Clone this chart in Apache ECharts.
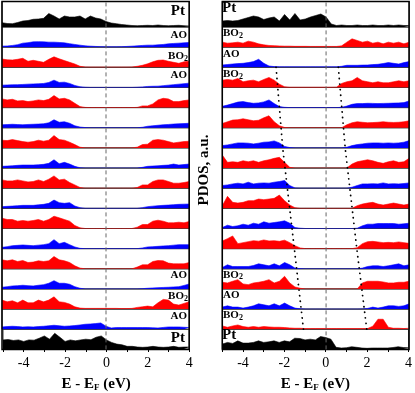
<!DOCTYPE html>
<html>
<head>
<meta charset="utf-8">
<script src="https://cdn.jsdelivr.net/npm/echarts@6/dist/echarts.min.js"></script>
<style>
  html, body { margin: 0; padding: 0; background: #fff; }
  #chart { width: 415px; height: 393px; }
</style>
</head>
<body>
<div id="chart"></div>
<script>
// energy grid, E - E_F (eV)
var energy = [-5, -4.75, -4.5, -4.25, -4, -3.75, -3.5, -3.25, -3, -2.75, -2.5, -2.25, -2, -1.75, -1.5, -1.25,
  -1, -0.75, -0.5, -0.25, 0, 0.25, 0.5, 0.75, 1, 1.25, 1.5, 1.75, 2, 2.25, 2.5, 2.75, 3, 3.25, 3.5, 3.75, 4];
var tickLabels = ['-4', '-2', '0', '2', '4'];

// left stack, top (Pt) to bottom (Pt)
var leftPtTop = [4.3,3.5,3.3,4.5,6,6.5,7.7,8,8.7,13.5,11,8,11,10,10,11,8,11,9,8,5.5,4,3.3,2.5,2,1.5,1.3,1.5,1.7,1.5,2,1.5,1.3,1.5,1.7,1.3,1];
var leftL1 = [1,1.2,1.7,2.5,4,4.5,5.3,5.5,5.3,5,5,4.7,4.3,3.5,2.7,2,1.3,1,0.7,0.5,0.3,0.3,0.3,0.5,0.7,1,1.3,1.7,2,2,2.3,2.7,3.3,3.7,4,4.3,4.7];
var leftL2 = [8.3,7.5,7.3,8,9,6,7,6,5,8,10.5,8.5,6.7,5,3.3,1,0.3,0.2,0.2,0.2,0.2,0.2,0.2,0.2,0.2,0.3,1,2,3.5,5.5,7,7.3,6,5,4,5.5,6];
var leftL3 = [2.3,2.5,2.7,2.8,3,3.3,3.5,3.7,4,5,7.3,5,5.3,4,2,0.7,0.2,0,0,0,0,0,0,0,0,0,0.2,0.5,1,1.2,1.3,1.8,2.3,2.8,3.3,3.8,4.3];
var leftL4 = [8.7,7.7,8.3,6.7,7,6,6.7,7.7,7,8.3,12,8.7,9.3,7.7,4.3,1,0.2,0,0,0,0,0,0,0,0,0,0.2,1.7,1.7,3.7,7.7,9.3,8.7,6,6,7,7.7];
var leftL5 = [3,3.2,3.5,3.2,3,3.3,3.5,3.7,4,5,8,5.5,6,4.5,2,0.7,0.2,0,0,0,0,0,0,0,0,0,0,0.5,1.5,2,2.5,3,3.3,3.7,4,4.2,4.5];
var leftL6 = [7.7,7.3,8.3,7.3,6.3,5.7,6.3,7.7,6.7,7.7,12.3,8.3,7.7,5.7,3.3,0.7,0,0,0,0,0,0,0,0,0,0,0.7,3.3,3.7,7.7,8.3,7.7,6.3,5,5.7,6.3,6.7];
var leftL7 = [1.7,2,2.3,2.7,3,3,3,3.3,3.7,4.7,8.3,4.3,5.7,4,1.7,0.3,0,0,0,0,0,0,0,0,0,0,0,0.7,1.7,2,2.3,2.7,3,4,3,3.5,4];
var leftL8 = [8.3,7.3,7.3,8.3,7.3,6.3,6.7,8.3,6.7,9,12.3,8.3,9,5.7,3.3,0.7,0,0,0,0,0,0,0,0,0,0,0.7,3.3,3.3,6.7,8.3,8.3,6.7,5,5,5.7,6.7];
var leftL9 = [1.7,2,2.3,2.7,3,3,3,3.5,4,5,8.3,5.7,5,5.7,2.3,0.7,0,0,0,0,0,0,0,0,0,0,0,0.7,1.7,2.2,2.7,3,3.3,3.7,4,4.2,4.3];
var leftL10 = [10.3,9,9,7.3,8,7.3,8,9,7.3,9,12.3,10.7,9,7.3,3,0.7,0,0,0,0,0,0,0,0,0,0,1.3,4,4,7.3,8.3,7.3,5.7,5.7,6.3,5.7,7];
var leftL11 = [1.3,2,3,3.3,3.7,3.3,3,3.5,4,5,9,5,6.3,4,1.7,0.3,0,0,0,0,0,0,0,0,0,0,0,0.7,1.7,2,2.3,2.7,3,3.5,4,4,4];
var leftL12 = [9,8,9,7.3,8.3,6.3,6.7,8,7.3,8,12.3,9,8,6.3,3,0.7,0,0,0,0,0,0,0,0,0,0,1.7,4,4,7.3,8.3,8,5.7,5,5,5,6.3];
var leftL13 = [1.7,2.3,3,3.3,3.7,3.3,3,3.7,4.3,5.7,8.3,5.7,5.7,4.7,2.3,0.7,0,0,0,0,0,0,0,0,0,0,0,0.3,0.7,1,1.3,1.5,1.7,2,2.3,3.5,5];
var leftL14 = [9,7.3,8.3,6.3,9,6.3,6.3,9,7.3,9,12.3,7.3,6.7,5,2.3,1,0.7,0.7,0.7,0.7,0.7,0.7,0.7,0.5,0.5,0.7,1.7,2.3,3,2.3,6.3,9.7,9,5,4,5.7,7.3];
var leftL15 = [2.3,2.7,3,2.7,2.3,2.5,2.3,2.7,3,3.5,4,3.5,3,3.3,3.7,4.3,5,5.3,5.7,6.3,3,1.3,1.7,1.7,1.7,1.7,1.7,1.7,1.7,1.5,1.3,1.8,2.3,2.3,2.3,2,1.7];
var leftPtBottom = [9.3,9.7,8.7,9.3,7.7,9.3,9,11,13.3,10,16,12,7.7,9.3,8.3,9.3,10,9.5,12,13.3,9.3,6.7,5,4.3,2.7,2.7,2,1.7,2,2.7,2,1.7,2,2.7,1.7,2,2];

// right stack, top (Pt) to bottom (Pt)
var rightPtTop = [6,6.5,6,6.5,8,9.5,11,10,7.5,9,10,6,12.5,7,13.5,7,8,10,11.5,13,10,3,1.5,2,1.5,1.5,2,1.5,1.5,2,1.5,1.5,2,1.5,2,1.5,1.5];
var rightR1 = [5,4,4.3,5,4,6,5,3.3,2.3,1.7,1.5,1.2,1,1,0.8,0.8,0.8,0.7,0.7,0.7,0.7,0.7,0.7,1.3,5,8.3,6.7,5,6,4,5,3.3,5,4,5,3.3,5];
var rightR2 = [2.3,2.8,3.3,3.7,4,4.7,5.7,8,4,1.3,0.7,0.5,0.5,0.5,0.5,0.5,0.5,0.5,0.5,0.5,0.5,0.5,0.5,1,2,2,2,2.2,2.3,2.7,3,3.8,4.7,4,3.3,4.7,5.7];
var rightR3 = [7.3,8,7.3,9,5.7,6.7,7.3,5.7,8,10,7.3,3.3,0.7,0.2,0.2,0.2,0.2,0.2,0.2,0.2,0.2,0.2,0.3,4,5.7,6.7,10,6.7,5.7,4.7,5.7,4.7,4.7,5.7,6.7,5.7,6.7];
var rightR4 = [1.3,2.5,4,5.5,6,5,4.3,4.7,5.7,7.7,4,1,0.3,0,0,0,0,0,0,0,0,0,0,0.3,1.5,3.3,4,4,4.3,4.2,4,4.2,4.3,4.5,4.7,5,6.7];
var rightR5 = [4.3,6,7.7,8,9,8,7,7.5,10,12,6,2,0.3,0,0,0,0,0,0,0,0,0,0,0,3,5,6,5.5,5,5.2,5.5,6,5.5,5.3,5.5,6,7];
var rightR6 = [2.3,3,4,5,5,4.7,4,4.7,5.7,6,7,5,1.5,0.3,0,0,0,0,0,0,0,0,0,0,0.7,2.3,3.3,4,4.7,5,5,4.7,5,4.7,5,5.7,7.3];
var rightR7 = [13,5.7,6.3,5.7,7.3,6.3,7.3,5.7,7.3,8.3,9.7,10.7,5.7,0.7,0,0,0,0,0,0,0,0,0,0,0,4,6.3,7.3,8.3,7.3,5.7,4.7,6.3,7.3,5.7,6.3,9.7];
var rightR8 = [2.7,3.3,4.3,5,4.3,6,4.3,5,5.3,5,6,6.7,7.7,2.7,0.3,0,0,0,0,0,0,0,0,0,0,1,2.7,4.3,4.3,4.5,4.3,5.3,4.3,4.5,4.3,4.7,5.3];
var rightR9 = [2.7,12,6,5.3,6,7.7,7.7,9.3,8.7,9.3,10,13.3,7.7,3.3,0.7,0,0,0,0,0,0,0,0,0,0,0,2.7,4.3,5.3,6,4.3,3.3,4.3,5.3,4.3,3.3,4.3];
var rightR10 = [1,3.3,2,2.7,4.3,3.3,5.3,4.3,6.7,5.3,6,6.7,7.7,5.3,1,0.3,0,0,0,0,0,0,0,0,0,0,0.3,2.7,4.3,4.3,5,5,5,5,4.3,4.7,5.3];
var rightR11 = [7.7,10,12.7,5,6,7,8,7.5,8.7,7.7,8,7.3,8.5,6,3,0.7,0,0,0,0,0,0,0,0,0,0,1,5,7,7.3,6.7,6,6.3,6,6.7,6,5.3];
var rightR12 = [1.3,4,2.3,2.3,2.3,2.3,3.3,5,4,3,5,3,6.3,4,0.7,0.2,0,0,0,0,0,0,0,0,0,0,0,0.7,2.3,3,3,2.3,3,4,5,3,4];
var rightR13 = [6.7,6,7.7,9.3,5,4.3,6,6.7,7.7,9.3,6,7.7,12.7,6,2,0.7,0,0,0,0,0,0,0,0,0,0,0,6,7.7,7.7,7.7,7,6,6,6.7,6.7,7.7];
var rightR14 = [2,3.3,2,2,1,2,3.3,5.3,4.3,3.3,5.3,3.3,6,3.3,1,0.3,0,0,0,0,0,0,0,0,0,0,0,0.2,0.7,2,1,2,3.3,3.3,2.7,3.3,5.3];
var rightR15 = [3.3,2,3.3,4.3,2.7,2,2.7,2,2.7,2.3,2,2,1.7,1.3,1,1,0.7,0.7,0.7,0.7,0.7,0.7,0.7,0.7,0.7,0.7,0.7,0.7,0.7,3,10,10,2,1,1,0.7,1];
var rightPtBottom = [5,6.7,5.7,8.3,6,6,6.7,8.3,6.7,7.3,8.3,6.7,8.3,7.3,11,10.7,9.3,10,9.3,12.7,11.7,10,1.7,1,1.3,2.3,1.7,1,0.7,1,1,1,1,1.5,2.3,1.5,1.3];

// band edges (dotted guides) at layer boundaries, right stack
var edgeLayers = [3, 7, 12, 16];
var vbEdge = [-2.41, -2.09, -1.53, -1.09];
var cbEdge = [0.59, 0.92, 1.48, 1.96];

var RED = '#ff0000', BLUE = '#0000ff', BLACK = '#000000';
var FONT = '"Liberation Serif", "Times New Roman", serif';

var leftStack = [leftPtTop, leftL1, leftL2, leftL3, leftL4, leftL5, leftL6, leftL7, leftL8,
  leftL9, leftL10, leftL11, leftL12, leftL13, leftL14, leftL15, leftPtBottom];
var rightStack = [rightPtTop, rightR1, rightR2, rightR3, rightR4, rightR5, rightR6, rightR7, rightR8,
  rightR9, rightR10, rightR11, rightR12, rightR13, rightR14, rightR15, rightPtBottom];

var TOP = 1.5, PT_H = 25.5, STRIP_H = 20.15, NLAYER = 17;
var BOTTOM = TOP + PT_H + (NLAYER - 1) * STRIP_H;

var grids = [], xAxes = [], yAxes = [], series = [];

function stripColor(side, k) {
  if (k === 0 || k === NLAYER - 1) return BLACK;
  if (side === 'left') return k % 2 ? BLUE : RED;
  return k % 2 ? RED : BLUE;
}

function addPanel(side, left, width, stack) {
  stack.forEach(function (vals, k) {
    var top = k === 0 ? TOP : TOP + PT_H + (k - 1) * STRIP_H;
    var h = k === 0 ? PT_H : STRIP_H;
    var idx = grids.length;
    var isBottom = k === NLAYER - 1;
    var col = stripColor(side, k);
    grids.push({ left: left, top: top, width: width, height: h, show: true,
      borderColor: '#3a3a3a', borderWidth: 1, backgroundColor: 'transparent' });
    xAxes.push({
      gridIndex: idx, type: 'value', min: -5, max: 4, interval: 1,
      show: isBottom,
      axisLine: { show: false },
      splitLine: { show: false },
      axisTick: { show: isBottom, length: 3, lineStyle: { color: '#000' } },
      axisLabel: {
        show: isBottom, margin: 7, fontFamily: FONT, fontSize: 14, color: '#000',
        formatter: function (v) {
          var s = String(v);
          return tickLabels.indexOf(s) >= 0 ? s : '';
        }
      },
      name: isBottom ? '{a|E - E}{s|F}{a| (eV)}' : '',
      nameLocation: 'middle', nameGap: 27,
      nameTextStyle: {
        rich: {
          a: { fontFamily: FONT, fontWeight: 'bold', fontSize: 15, color: '#000' },
          s: { fontFamily: FONT, fontWeight: 'bold', fontSize: 9, color: '#000',
               verticalAlign: 'bottom', padding: [7, 0, 0, 0] }
        }
      }
    });
    yAxes.push({ gridIndex: idx, type: 'value', min: 0, max: h, show: false, splitLine: { show: false } });
    series.push({
      type: 'line', xAxisIndex: idx, yAxisIndex: idx, silent: true, symbol: 'none',
      data: energy.map(function (e, i) { return [e, vals[i]]; }),
      lineStyle: { color: col, width: 0.6 },
      areaStyle: { color: col, opacity: 1 }
    });
  });

  // overlay: Fermi level + frame
  var o = grids.length;
  grids.push({ left: left, top: TOP, width: width, height: BOTTOM - TOP, show: true,
    borderColor: '#000', borderWidth: 1.5, backgroundColor: 'transparent', z: 5 });
  xAxes.push({ gridIndex: o, type: 'value', min: -5, max: 4, show: false });
  yAxes.push({ gridIndex: o, type: 'value', min: 0, max: 1, show: false });
  series.push({
    type: 'line', xAxisIndex: o, yAxisIndex: o, silent: true, symbol: 'none', z: 6,
    data: [[0, 0], [0, 1]],
    lineStyle: { color: '#666', width: 1, type: [4, 3] }
  });

  if (side === 'right') {
    var d = grids.length;
    grids.push({ left: left, top: TOP + PT_H, width: width, height: BOTTOM - TOP - PT_H, show: false });
    xAxes.push({ gridIndex: d, type: 'value', min: -5, max: 4, show: false });
    yAxes.push({ gridIndex: d, type: 'value', min: 1, max: NLAYER, inverse: true, show: false });
    [vbEdge, cbEdge].forEach(function (edge) {
      series.push({
        type: 'line', xAxisIndex: d, yAxisIndex: d, silent: true, symbol: 'none', z: 7,
        data: edge.map(function (e, i) { return [e, edgeLayers[i]]; }),
        lineStyle: { color: '#000', width: 1.8, type: [0.1, 5.5], cap: 'round' }
      });
    });
  }
}

addPanel('left', 2, 187.2, leftStack);
addPanel('right', 222.3, 186.8, rightStack);

function layerTop(k) {
  return k === 0 ? TOP : TOP + PT_H + (k - 1) * STRIP_H;
}

var richLab = {
  n: { fontFamily: FONT, fontWeight: 'bold', fontSize: 11, fill: '#000', color: '#000' },
  s: { fontFamily: FONT, fontWeight: 'bold', fontSize: 8, fill: '#000', color: '#000',
       verticalAlign: 'bottom', padding: [5, 0, 0, 0] }
};
function label(text, x, y, align) {
  return {
    type: 'text', x: x, y: y, z: 20, silent: true,
    style: {
      text: text, align: align, verticalAlign: 'middle',
      fontFamily: FONT, fontWeight: 'bold', fontSize: 11, fill: '#000',
      rich: richLab
    }
  };
}
function ptLabel(x, y, align) {
  return { type: 'text', x: x, y: y, z: 20, silent: true,
    style: { text: 'Pt', align: align, verticalAlign: 'middle', fontFamily: FONT,
             fontWeight: 'bold', fontSize: 15, fill: '#000' } };
}
var BO2 = '{n|BO}{s|2}';
var AO = '{n|AO}';

var graphics = [
  // left stack labels (right aligned)
  ptLabel(185, 11, 'right'),
  label(AO, 187, layerTop(1) + 8, 'right'),
  label(BO2, 188, layerTop(2) + 9, 'right'),
  label(AO, 187, layerTop(3) + 8, 'right'),
  label(AO, 187, layerTop(13) + 6, 'right'),
  label(BO2, 188, layerTop(14) + 7, 'right'),
  label(AO, 187, layerTop(15) + 7, 'right'),
  ptLabel(185, layerTop(16) + 9, 'right'),
  // right stack labels (left aligned)
  ptLabel(222, 8, 'left'),
  label(BO2, 223, layerTop(1) + 6, 'left'),
  label(AO, 223, layerTop(2) + 7, 'left'),
  label(BO2, 223, layerTop(3) + 7, 'left'),
  label(BO2, 223, layerTop(13) + 6, 'left'),
  label(AO, 223, layerTop(14) + 6, 'left'),
  label(BO2, 223, layerTop(15) + 6, 'left'),
  ptLabel(222, layerTop(16) + 6, 'left'),
  // shared y label
  { type: 'text', x: 204, y: 170, rotation: Math.PI / 2, z: 20, silent: true,
    style: { text: 'PDOS, a.u.', align: 'center', verticalAlign: 'middle', fontFamily: FONT,
             fontWeight: 'bold', fontSize: 15, fill: '#000' } }
];

var chart = echarts.init(document.getElementById('chart'), null, { renderer: 'canvas' });
chart.setOption({
  animation: false,
  backgroundColor: '#fff',
  grid: grids,
  xAxis: xAxes,
  yAxis: yAxes,
  series: series,
  graphic: graphics
});
</script>
</body>
</html>
